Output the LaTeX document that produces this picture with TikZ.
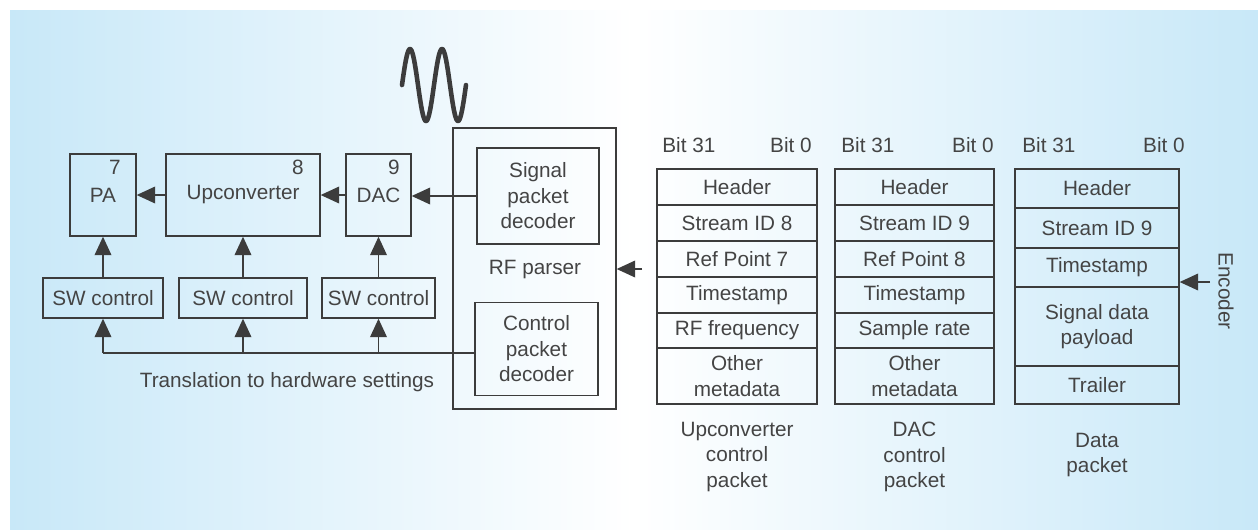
\documentclass[tikz,border=0pt]{standalone}
\usepackage{fontspec}
\setmainfont{Liberation Sans}
\usetikzlibrary{arrows.meta,calc}
\definecolor{bgblue}{RGB}{200,232,248}
\definecolor{ink}{RGB}{60,60,60}
\definecolor{textink}{RGB}{68,68,68}

\begin{document}
\begin{tikzpicture}[x=0.02cm,y=-0.02cm,
  font=\fontsize{11.8}{14.5}\selectfont, text=textink,
  box/.style={draw=ink, line width=0.8pt, inner sep=0pt, align=center},
  blk/.style={box, minimum height=1.64cm},
  swc/.style={box, minimum height=0.80cm},
  row1/.style={box, minimum width=3.20cm, minimum height=#1},
  row2/.style={box, minimum width=3.18cm, minimum height=#1},
  row3/.style={box, minimum width=3.28cm, minimum height=#1},
  wire/.style={draw=ink, line width=0.8pt},
  arr/.style={wire, -{Triangle[length=10.5pt,width=9.5pt]}},
  lbl/.style={inner sep=0pt, align=center}]

\useasboundingbox (0,0) rectangle (1258,529);
\shade[left color=bgblue, right color=bgblue, middle color=white] (10,10) rectangle (1258,529);

% transmit chain
\node[blk, minimum width=1.32cm] (pa)  at (103,195)   {PA};
\node[blk, minimum width=3.08cm] (up)  at (243,195)   {Upconverter};
\node[blk, minimum width=1.30cm] (dac) at (378.5,195) {DAC};
\node[lbl] (n7) at (115,167) {7};
\node[lbl] (n8) at (298,167) {8};
\node[lbl] (n9) at (394,167) {9};

\node[swc, minimum width=2.40cm] (sw1) at (103,298)   {SW control};
\node[swc, minimum width=2.56cm] (sw2) at (243,298)   {SW control};
\node[swc, minimum width=2.26cm] (sw3) at (378.5,298) {SW control};

% RF parser
\node[box, minimum width=3.26cm, minimum height=5.62cm] (rf) at (534.5,268.5) {};
\node[lbl] (rflbl) at (535,270) {RF parser};
\node[box, minimum width=2.44cm, minimum height=1.92cm] (sig) at (538,196) {Signal\\packet\\decoder};
\node[box, minimum width=2.46cm, minimum height=1.86cm] (ctl) at (536.5,349) {Control\\packet\\decoder};

% signal path
\draw[arr] (sig.west) -- (sig.west -| dac.east);
\draw[arr] (dac.west) -- (up.east);
\draw[arr] (up.west) -- (pa.east);
\draw[arr] (sw1.north) -- (pa.south);
\draw[arr] (sw2.north) -- (up.south);
\draw[arr] (sw3.north) -- (dac.south);

% control bus
\coordinate (b1) at (103,353);
\coordinate (b2) at (243,353);
\coordinate (b3) at (378.5,353);
\draw[wire] (ctl.west |- b1) -- (b1);
\draw[arr] (b1) -- (sw1.south);
\draw[arr] (b2) -- (sw2.south);
\draw[arr] (b3) -- (sw3.south);
\node[lbl] (trans) at (287,382) {Translation to hardware settings};

% carrier waveform: two periods of 32 units
\draw[ink, line width=2.6pt, line cap=round, line join=round]
  plot[domain=0:64, samples=120, smooth] ({402+\x}, {85-36*sin(11.25*\x)});

% packet input
\coordinate (pin) at (642,269);
\draw[arr] (pin) -- (pin -| rf.east);

% upconverter control packet
\node[row1=0.72cm] (a1) at (737,187)   {Header};
\node[row1=0.72cm] (a2) at (737,223)   {Stream ID 8};
\node[row1=0.72cm] (a3) at (737,259)   {Ref Point 7};
\node[row1=0.72cm] (a4) at (737,295)   {Timestamp};
\node[row1=0.70cm] (a5) at (737,330.5) {RF frequency};
\node[row1=1.12cm] (a6) at (737,376)   {Other\\metadata};

% DAC control packet
\node[row2=0.72cm] (c1) at (914.5,187)   {Header};
\node[row2=0.72cm] (c2) at (914.5,223)   {Stream ID 9};
\node[row2=0.72cm] (c3) at (914.5,259)   {Ref Point 8};
\node[row2=0.72cm] (c4) at (914.5,295)   {Timestamp};
\node[row2=0.70cm] (c5) at (914.5,330.5) {Sample rate};
\node[row2=1.12cm] (c6) at (914.5,376)   {Other\\metadata};

% data packet
\node[row3=0.78cm] (d1) at (1097,188.5) {Header};
\node[row3=0.80cm] (d2) at (1097,228)   {Stream ID 9};
\node[row3=0.78cm] (d3) at (1097,267.5) {Timestamp};
\node[row3=1.58cm] (d4) at (1097,326.5) {Signal data\\payload};
\node[row3=0.76cm] (d5) at (1097,385)   {Trailer};

% bit numbering
\node[lbl, anchor=base west] (a31) at (662,152)  {Bit 31};
\node[lbl, anchor=base east] (a0)  at (812,152)  {Bit 0};
\node[lbl, anchor=base west] (c31) at (841,152)  {Bit 31};
\node[lbl, anchor=base east] (c0)  at (994,152)  {Bit 0};
\node[lbl, anchor=base west] (d31) at (1022,152) {Bit 31};
\node[lbl, anchor=base east] (d0)  at (1185,152) {Bit 0};

% captions
\node[lbl] (capa) at (737,457)   {Upconverter\\control\\packet};
\node[lbl] (capc) at (914.5,457) {DAC\\control\\packet};
\node[lbl] (capd) at (1097,455)  {Data\\packet};

% encoder input
\node[lbl, rotate=-90] (enc) at (1226,291) {Encoder};
\coordinate (ein) at (1210,282);
\draw[arr] (ein) -- (ein -| d3.east);
\end{tikzpicture}
\end{document}
